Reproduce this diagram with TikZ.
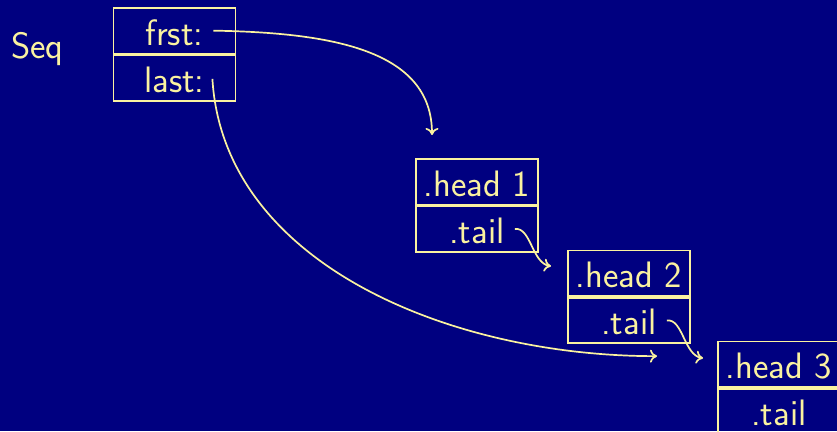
\documentclass[tikz,border=0pt]{standalone}
\usepackage{fontspec}
\usetikzlibrary{arrows.meta,calc}
\definecolor{bg}{RGB}{0,0,128}
\definecolor{ink}{RGB}{250,242,160}
\begin{document}
\begin{tikzpicture}[x=1pt,y=-1pt,
  every node/.style={font=\sffamily\fontsize{36.8}{44}\selectfont, text=ink},
  cell/.style={draw=ink, line width=1.8pt, minimum width=122pt, minimum height=45.5pt,
    inner sep=0pt, text height=29pt, text depth=0pt, anchor=north west},
  ptr/.style={draw=ink, line width=1.7pt,
    -{Computer Modern Rightarrow[length=7pt,width=13pt]}}]
  \fill[bg] (0,0) rectangle (837,431);
  \useasboundingbox (0,0) rectangle (837,431);

  \node[anchor=base west, inner sep=0pt] (seq) at (11,58) {Seq};

  % the sequence header
  \node[cell] (first) at (112.5,7) {frst:};
  \node[cell] (last) at (first.south west) {last:};

  % the three list cells
  \node[cell] (h1) at (415,158) {.head 1};
  \node[cell] (t1) at (h1.south west) {.tail};
  \node[cell] (h2) at (567,249.5) {.head 2};
  \node[cell] (t2) at (h2.south west) {.tail};
  \node[cell] (h3) at (717,340.5) {.head 3};
  \node[cell] (t3) at (h3.south west) {.tail};

  % pointer ends
  \coordinate (pf) at ($(first.center)+(39,0)$);
  \coordinate (pl) at ($(last.center)+(38,1)$);
  \coordinate (p1) at ($(t1.center)+(38,0)$);
  \coordinate (p2) at ($(t2.center)+(38,0)$);
  \coordinate (ef) at ($(h1.north west)+(17,-23)$);
  \coordinate (el) at ($(h3.west)+(-60,-8)$);
  \coordinate (e1) at ($(h2.west)+(-16,-7)$);
  \coordinate (e2) at ($(h3.west)+(-14,-6)$);

  \draw[ptr] (pf) .. controls +(118,2) and +(0,-85) .. (ef);
  \draw[ptr] (pl) .. controls +(11,184) and +(-208,0) .. (el);
  \draw[ptr] (p1) .. controls +(16,-2) and +(-19,-3) .. (e1);
  \draw[ptr] (p2) .. controls +(16,-2) and +(-19,-3) .. (e2);
\end{tikzpicture}
\end{document}
